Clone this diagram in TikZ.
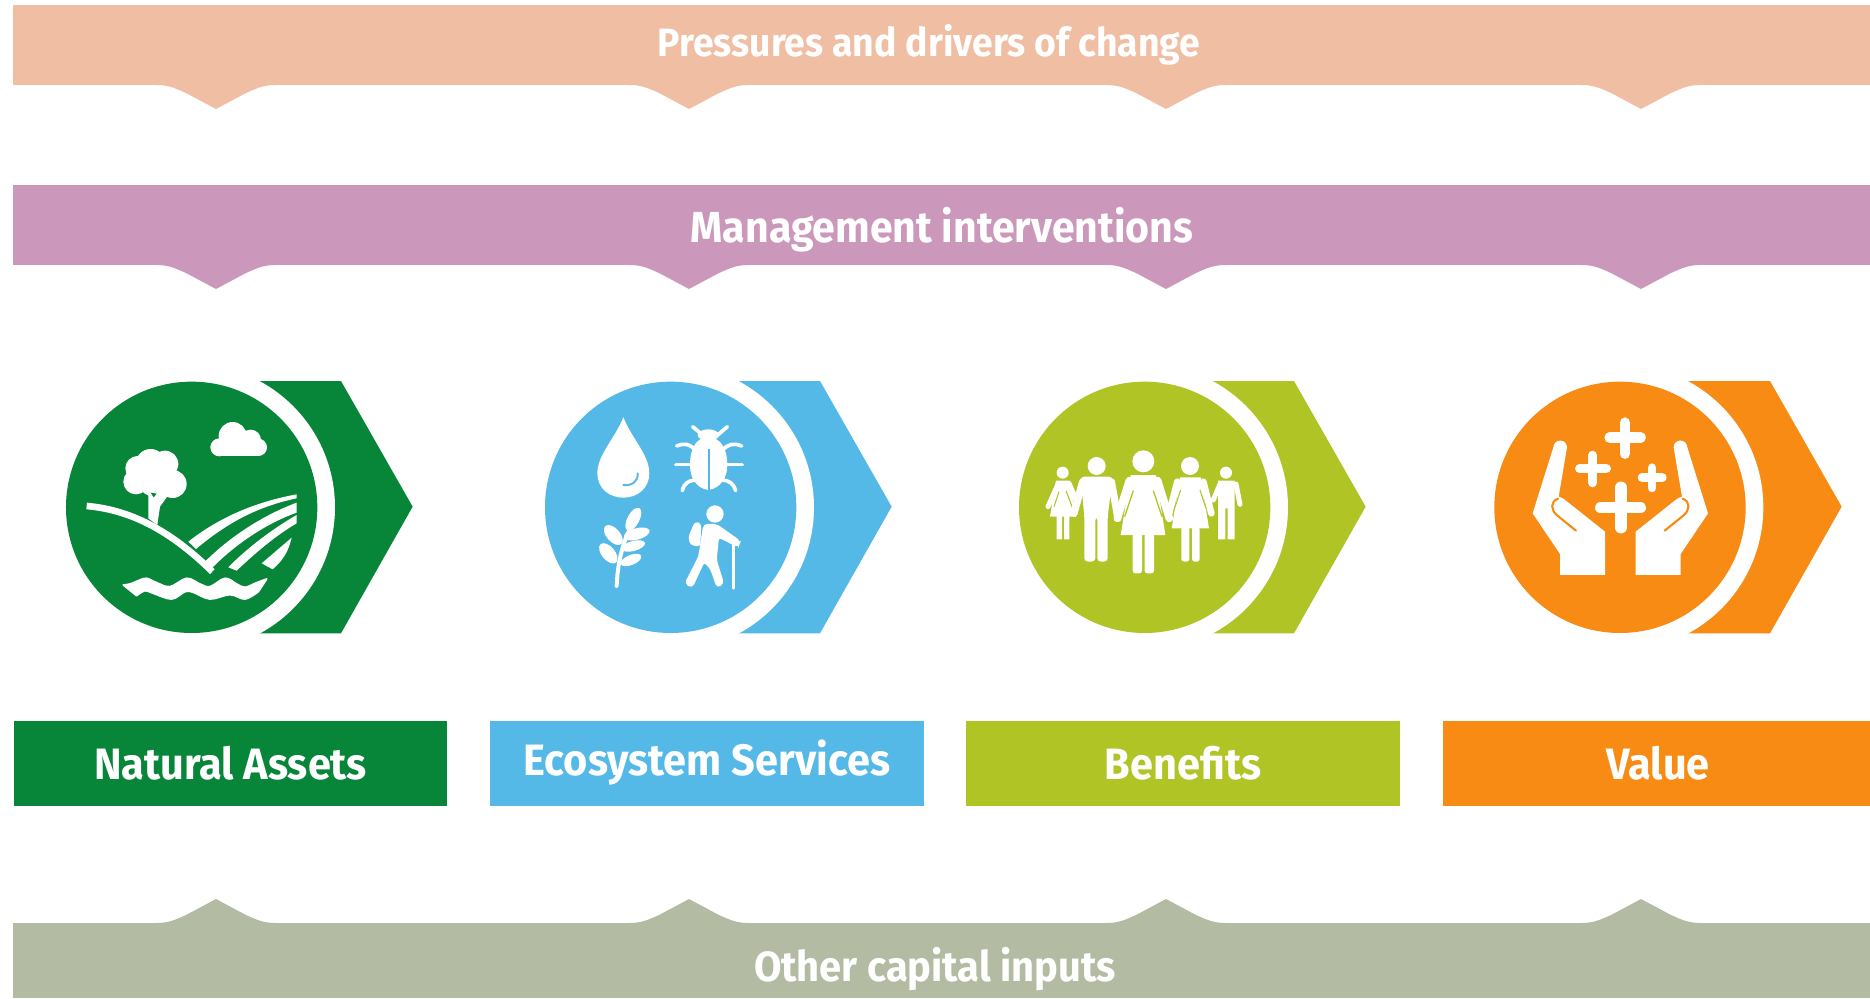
\documentclass[tikz,border=0pt]{standalone}
\usepackage{fontspec}
\setmainfont{Fira Sans}[BoldFont={Fira Sans Bold},FakeStretch=0.945]
\definecolor{cpeach}{HTML}{EFBEA3}
\definecolor{cmauve}{HTML}{CB98BC}
\definecolor{cgrey}{HTML}{B4BBA3}
\definecolor{cgreen}{HTML}{07863A}
\definecolor{cblue}{HTML}{55B9E8}
\definecolor{clime}{HTML}{B0C425}
\definecolor{corange}{HTML}{F78B14}
\tikzset{
  bartext/.style={text=white,font=\fontsize{#1}{29}\selectfont\bfseries,inner sep=0pt},
  labelbox/.style={text=white,font=\fontsize{25}{29}\selectfont\bfseries,inner sep=0pt,
    minimum height=85*0.02cm,anchor=center},
  zoomunits/.style={x=0.02cm/3,y=-0.02cm/3},
  wl/.style={white,line width=#1*0.189pt,line cap=round,line join=round},
}
\newcommand{\tabshape}[3]{% tip x, base y, sign
  \fill (#1-60,#2-#3) -- (#1-60,#2) .. controls (#1-48,#2) and (#1-42,#2+2.5*#3) .. (#1-29,#2+8.5*#3)
     -- (#1,#2+24*#3) -- (#1+29,#2+8.5*#3) .. controls (#1+42,#2+2.5*#3) and (#1+48,#2) .. (#1+60,#2) -- (#1+60,#2-#3) -- cycle;}
\newcommand{\badge}[5]{%
  \fill[#1] (#3+200,63) -- (#4,63) -- (#4+215,440) -- (#4,820) -- (#3+200,820) -- cycle;
  \fill[white] (#3,442) circle (430);
  \node[circle,fill=#1,draw=none,minimum size=754*0.02cm/3,inner sep=0pt] (#5) at (#3,442) {};
}
\newcommand{\handshape}{%
  \fill[white] (250,262) .. controls (252,235) and (290,235) .. (291,262)
    -- (266,410) .. controls (275,412) and (280,415) .. (288,422) -- (405,515) -- (405,645) -- (270,645) -- (270,582) -- (188,460) -- cycle;
  \draw[corange,line width=1.2pt,line cap=round] (264,416) .. controls (240,425) and (243,450) .. (260,465) -- (318,512);
}
\begin{document}
\begin{tikzpicture}[x=0.02cm,y=-0.02cm]
\useasboundingbox (0,0) rectangle (1870,998);
\fill[white] (0,0) rectangle (1870,998);

% bars
\fill[cpeach] (13,5) rectangle (1870,85);
\begin{scope}[cpeach]
\foreach \t in {216,689,1166,1641} {\tabshape{\t}{85}{1}}
\end{scope}
\node[bartext=22.5] (pressures) at (929,45) {Pressures and drivers of change};

\fill[cmauve] (13,185) rectangle (1870,265);
\begin{scope}[cmauve]
\foreach \t in {216,689,1166,1641} {\tabshape{\t}{265}{1}}
\end{scope}
\node[bartext=24.7] (management) at (942,230) {Management interventions};

\fill[cgrey] (13,923) rectangle (1870,998);
\begin{scope}[cgrey]
\foreach \t in {216,689,1166,1641} {\tabshape{\t}{923}{-1}}
\end{scope}
\node[bartext=24] (capital) at (935,969) {Other capital inputs};

% label boxes
\node[labelbox,fill=cgreen,minimum width=433*0.02cm] (natural) at (230.5,763) {Natural Assets};
\node[labelbox,fill=cblue,minimum width=434*0.02cm] (ecosystem) at (707,763) {Ecosystem Services};
\node[labelbox,fill=clime,minimum width=434*0.02cm] (benefits) at (1183,763) {Benefits};
\node[labelbox,fill=corange,minimum width=430*0.02cm] (valuebox) at (1658,763) {Value};

% ---- Natural assets icon
\begin{scope}[shift={(40,360)},zoomunits]
\badge{cgreen}{40}{455}{903}{discA}
% cloud
\fill[white] (578,228) circle (42) (632,240) circle (31) (538,262) circle (27) (655,262) circle (26);
\fill[white] (538,245) rectangle (655,288);
% tree
\fill[white] (332,312) circle (45) (375,312) circle (40) (293,325) circle (37) (288,365) circle (38)
  (398,372) circle (42) (345,355) circle (55);
\fill[white] (325,395) -- (325,475) -- (352,495) -- (360,440) -- (385,405) -- cycle;
\fill[cgreen] (332,398) -- (350,401) -- (341,412) -- cycle;
% hill
\draw[wl=20,line cap=butt] (140,438) .. controls (280,450) and (400,520) .. (517,635);
% fields
\fill[white] (445,545) .. controls (540,470) and (650,425) .. (770,403) -- (770,415) .. controls (650,440) and (560,490) .. (468,567) -- cycle;
\fill[white] (495,605) .. controls (570,530) and (670,465) .. (770,428) -- (770,458) .. controls (680,490) and (590,550) .. (518,622) -- cycle;
\fill[white] (565,622) .. controls (620,565) and (700,505) .. (770,465) -- (770,490) .. controls (710,525) and (650,575) .. (590,632) -- cycle;
\fill[white] (665,610) -- (755,533) .. controls (745,575) and (730,600) .. (698,628) -- cycle;
% water
\fill[white,draw=white,line width=1pt,line join=round] plot[smooth,tension=0.6] coordinates {(250,675) (270,672) (300,660) (320,655) (350,668) (390,680) (440,655) (480,672) (510,680) (555,655) (590,672) (615,682) (650,668) (680,657)}
  -- plot[smooth,tension=0.6] coordinates {(655,695) (615,717) (570,704) (510,717) (460,697) (435,695) (395,717) (340,700) (315,692) (290,707)} -- cycle;
\end{scope}

% ---- Ecosystem services icon
\begin{scope}[shift={(520,360)},zoomunits]
\badge{cblue}{40}{452}{900}{discB}
% drop
\fill[white] (310,172) .. controls (285,235) and (232,285) .. (232,340)
  .. controls (232,385) and (268,413) .. (310,413) .. controls (352,413) and (388,385) .. (388,340)
  .. controls (388,285) and (335,235) .. (310,172) -- cycle;
\draw[cblue,line width=1.1pt,line cap=round] (310,375) .. controls (335,378) and (355,365) .. (353,340);
% beetle
\fill[white] (565,232) .. controls (610,232) and (622,280) .. (622,315) .. controls (622,355) and (600,385) .. (565,390)
  .. controls (530,385) and (510,355) .. (510,315) .. controls (510,280) and (520,232) .. (565,232) -- cycle;
\fill[white] (565,225) ellipse [x radius=32,y radius=17];
\draw[cblue,line width=1.2pt] (566,268) -- (566,395);
\begin{scope}[every path/.style={wl=11}]
\draw (518,200) -- (548,225);
\draw (622,200) -- (590,228);
\draw (470,258) .. controls (495,248) and (510,252) .. (525,270);
\draw (665,258) .. controls (640,248) and (625,252) .. (608,270);
\draw (468,314) -- (520,314);
\draw (666,314) -- (612,314);
\draw (487,392) .. controls (492,370) and (505,362) .. (525,360);
\draw (647,392) .. controls (640,370) and (628,362) .. (608,360);
\end{scope}
% wheat
\draw[wl=12] (290,678) .. controls (293,610) and (305,560) .. (330,505);
\fill[white] (340,478) ellipse [x radius=38,y radius=18,rotate=62];
\fill[white] (280,525) ellipse [x radius=36,y radius=20,rotate=-48];
\fill[white] (350,522) ellipse [x radius=40,y radius=17,rotate=15];
\fill[white] (265,580) ellipse [x radius=36,y radius=20,rotate=-50];
\fill[white] (340,558) ellipse [x radius=36,y radius=15,rotate=15];
\fill[white] (333,600) ellipse [x radius=33,y radius=15,rotate=22];
% hiker
\fill[white] (585,462) circle (26);
\fill[white,rounded corners=2pt] (525,484) -- (544,490) -- (541,560) -- (510,555) -- (505,530) -- cycle;
\fill[white,draw=white,line width=0.8pt,rounded corners=2pt] (552,494) -- (590,494) -- (660,544) -- (654,560) -- (595,530) -- (588,600) -- (610,670) -- (592,682) -- (572,625) -- (552,604) -- (516,682) -- (496,670) -- (537,590) -- cycle;
\draw[wl=10] (641,555) -- (641,684);
\end{scope}

% ---- Benefits icon
\begin{scope}[shift={(990,360)},zoomunits]
\badge{clime}{40}{464}{912}{discC}
% girl
\fill[white] (218,338) circle (18);
\fill[white] (198,362) -- (240,362) -- (258,470) -- (180,470) -- cycle;
\fill[white] (200,465) rectangle (216,538) (222,465) rectangle (238,538);
\draw[wl=15] (205,370) -- (174,440);
\draw[wl=15] (237,370) -- (262,428);
\draw[clime,line width=0.6pt] (207,395) -- (192,440) (228,392) -- (248,445);
% man
\fill[white] (320,318) circle (27);
\fill[white,rounded corners=2pt] (272,350) -- (368,350) -- (353,470) -- (353,605) -- (322,605) -- (322,470) -- (316,470) -- (316,605) -- (283,605) -- (283,470) -- cycle;
\draw[wl=22] (278,365) -- (252,460);
\draw[wl=22] (364,365) -- (384,475);
% centre woman
\fill[white] (460,304) circle (33);
\fill[white] (422,345) -- (498,345) -- (526,525) -- (392,525) -- cycle;
\fill[white,rounded corners=1.5pt] (428,520) -- (456,520) -- (456,640) -- (428,640) -- cycle (464,520) -- (492,520) -- (492,640) -- (464,640) -- cycle;
\draw[wl=23] (418,362) -- (382,475);
\draw[wl=23] (503,362) -- (538,475);
\draw[clime,line width=0.7pt] (430,392) -- (404,470) (490,392) -- (516,470);
% right woman
\fill[white] (600,318) circle (27);
\fill[white] (570,352) -- (632,352) -- (657,505) -- (545,505) -- cycle;
\fill[white,rounded corners=1.5pt] (574,500) rectangle (598,605) (606,500) rectangle (629,605);
\draw[wl=20] (562,365) -- (535,470);
\draw[wl=20] (640,365) -- (664,460);
\draw[clime,line width=0.6pt] (572,390) -- (552,450) (630,390) -- (648,445);
% boy
\fill[white] (708,338) circle (18);
\fill[white] (684,362) -- (734,362) -- (734,538) -- (713,538) -- (713,445) -- (706,445) -- (706,538) -- (684,538) -- cycle;
\draw[wl=15] (690,372) -- (670,420);
\draw[wl=15] (738,372) -- (750,433);
\end{scope}

% ---- Value icon
\begin{scope}[shift={(1470,360)},zoomunits]
\badge{corange}{40}{450}{900}{discD}
\handshape
\begin{scope}[shift={(902,0)},xscale=-1]
\handshape
\end{scope}
\draw[wl=32] (465,188) -- (465,281) (419,233) -- (512,233);
\draw[wl=28] (368,286) -- (368,368) (329,326) -- (409,326);
\draw[wl=26] (546,323) -- (546,384) (516,353) -- (577,353);
\draw[wl=35] (453,382) -- (453,503) (392,443) -- (511,443);
\end{scope}
\end{tikzpicture}
\end{document}
